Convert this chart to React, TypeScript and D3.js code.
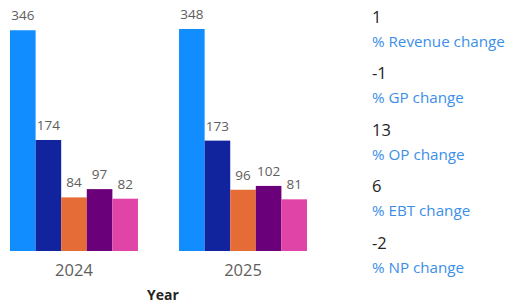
import * as d3 from "d3";

// chart values
const years = ["2024", "2025"];
const metrics = ["Revenue", "GP", "OP", "EBT", "NP"];
const values2024 = [346, 174, 84, 97, 82];
const values2025 = [348, 173, 96, 102, 81];
const colors = ["#118DFF", "#12239E", "#E66C37", "#6B007B", "#E044A7"];

// cards on the right
const cardValues = ["1", "-1", "13", "6", "-2"];
const cardLabels = ["% Revenue change", "% GP change", "% OP change", "% EBT change", "% NP change"];

const width = 509;
const height = 306;
const font = "'Open Sans', 'Noto Sans', sans-serif";

const App = () => {
    const series = [values2024, values2025];

    const x0 = d3.scaleBand().domain(years).range([10, 307]).paddingInner(0.243);
    const x1 = d3.scaleBand().domain(metrics).range([0, x0.bandwidth()]);
    const y = d3.scaleLinear().domain([0, 350]).range([251, 27.7]);

    const cardY = d3.scaleBand().domain(cardLabels).range([0, 282]);

    return (
        <svg width={width} height={height} style={{ position: "absolute", left: 0, top: 0, background: "#fff" }}>
            {years.map((yr, i) => (
                <g key={yr} transform={`translate(${x0(yr)},0)`}>
                    {metrics.map((m, j) => {
                        const v = series[i][j];
                        return (
                            <g key={m}>
                                <rect
                                    x={x1(m)}
                                    y={y(v)}
                                    width={x1.bandwidth()}
                                    height={y(0) - y(v)}
                                    fill={colors[j]}
                                />
                                <text
                                    x={x1(m)! + x1.bandwidth() / 2}
                                    y={y(v) - 10}
                                    textAnchor="middle"
                                    fontFamily={font}
                                    fontSize={13.5}
                                    fill="#605E5C"
                                >
                                    {v}
                                </text>
                            </g>
                        );
                    })}
                    <text
                        x={x0.bandwidth() / 2}
                        y={276}
                        textAnchor="middle"
                        fontFamily={font}
                        fontSize={16.5}
                        fill="#605E5C"
                    >
                        {yr}
                    </text>
                </g>
            ))}
            <text x={163} y={300} textAnchor="middle" fontFamily={font} fontSize={14} fontWeight="bold" fill="#252423">
                Year
            </text>

            {cardLabels.map((label, i) => (
                <g key={label} transform={`translate(372,${cardY(label)})`}>
                    <text x={0} y={23} fontFamily={font} fontSize={16.5} fill="#252423">
                        {cardValues[i]}
                    </text>
                    <text x={0} y={47} fontFamily={font} fontSize={15.2} fill="#3C8FE8">
                        {label}
                    </text>
                </g>
            ))}
        </svg>
    );
};

export default App;
